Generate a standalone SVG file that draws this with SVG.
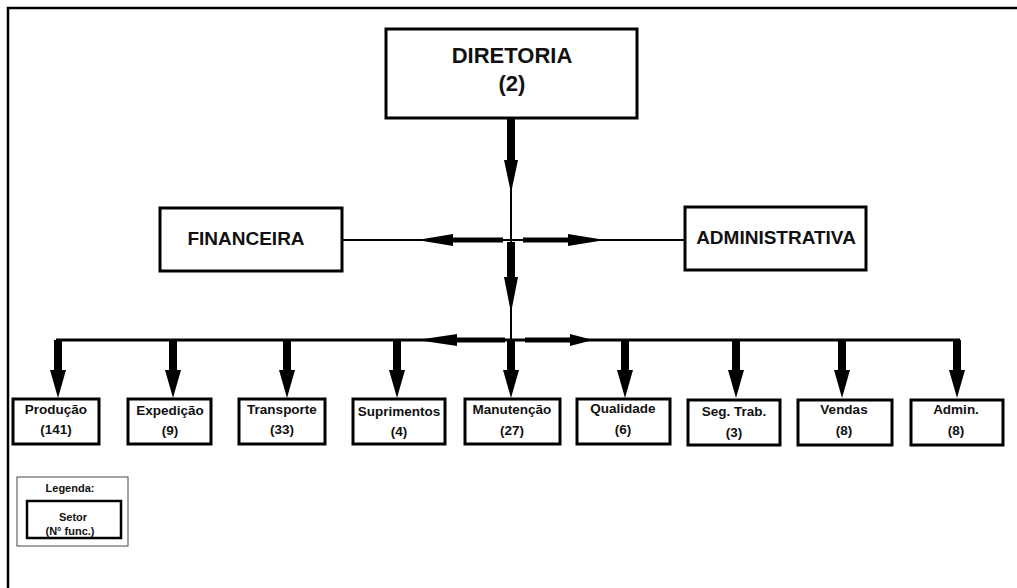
<svg xmlns="http://www.w3.org/2000/svg" width="1017" height="588" viewBox="0 0 1017 588">
<style>
text{font-family:"Liberation Sans",Arial,sans-serif;font-weight:bold;fill:#111;text-anchor:middle}
.big{stroke:#000;stroke-width:3;fill:#fff}
.sm{stroke:#000;stroke-width:3;fill:#fff}
.line{stroke:#000;fill:none}
.t22{font-size:22px}
.t19{font-size:19px}
.t12{font-size:13.5px}
.t11{font-size:11px}
</style>
<defs>
<path id="down" d="M-4,0 H4 V30 H8 L0,58 L-8,30 H-4 Z" fill="#000"/>
</defs>
<rect width="1017" height="588" fill="#fff"/>
<path class="line" d="M8,588 V8 H1017" stroke-width="2.5"/>
<g id="connectors">
<line class="line" x1="511" y1="118" x2="511" y2="340" stroke-width="2"/>
<path d="M507,118 H515 V160 H518 L511,193 L504,160 H507 Z" fill="#000"/>
<path d="M507,242 H515 V277 H518 L511,313 L504,277 H507 Z" fill="#000"/>
<line class="line" x1="342" y1="240" x2="685" y2="240" stroke-width="2"/>
<path d="M503,237.5 V242.5 H453 V246 L417,240 L453,234 V237.5 Z" fill="#000"/>
<path d="M523,237.5 V242.5 H568 V246 L605,240 L568,234 V237.5 Z" fill="#000"/>
<line class="line" x1="56" y1="340" x2="960" y2="340" stroke-width="3"/>
<path d="M505,337.5 V342.5 H457 V346 L417,340 L457,334 V337.5 Z" fill="#000"/>
<path d="M525,337.5 V342.5 H570 V346 L593,340 L570,334 V337.5 Z" fill="#000"/>
<use href="#down" x="58" y="340"/>
<use href="#down" x="173" y="340"/>
<use href="#down" x="287" y="340"/>
<use href="#down" x="397" y="340"/>
<use href="#down" x="511" y="340"/>
<use href="#down" x="625" y="340"/>
<use href="#down" x="736" y="340"/>
<use href="#down" x="842" y="340"/>
<use href="#down" x="957" y="340"/>
</g>
<g id="diretoria">
<rect class="big" x="386" y="29" width="251" height="89"/>
<text class="t22" x="512" y="63">DIRETORIA</text>
<text class="t22" x="512" y="91">(2)</text>
</g>
<g id="financeira">
<rect class="big" x="160" y="208" width="182" height="63"/>
<text class="t19" x="246" y="245">FINANCEIRA</text>
</g>
<g id="administrativa">
<rect class="big" x="685" y="207" width="181" height="63"/>
<text class="t19" x="776" y="244">ADMINISTRATIVA</text>
</g>
<g id="producao">
<rect class="sm" x="13" y="399" width="86" height="45"/>
<text class="t12" x="56" y="414">Produção</text>
<text class="t12" x="56" y="434">(141)</text>
</g>
<g id="expedicao">
<rect class="sm" x="128" y="399" width="83" height="45"/>
<text class="t12" x="170" y="415">Expedição</text>
<text class="t12" x="170" y="435">(9)</text>
</g>
<g id="transporte">
<rect class="sm" x="239" y="399" width="86" height="45"/>
<text class="t12" x="282" y="414">Transporte</text>
<text class="t12" x="282" y="434">(33)</text>
</g>
<g id="suprimentos">
<rect class="sm" x="353" y="399" width="92" height="45"/>
<text class="t12" x="399" y="416">Suprimentos</text>
<text class="t12" x="399" y="436">(4)</text>
</g>
<g id="manutencao">
<rect class="sm" x="465" y="399" width="95" height="45"/>
<text class="t12" x="512" y="414">Manutenção</text>
<text class="t12" x="512" y="435">(27)</text>
</g>
<g id="qualidade">
<rect class="sm" x="577" y="399" width="93" height="45"/>
<text class="t12" x="623" y="413">Qualidade</text>
<text class="t12" x="623" y="434">(6)</text>
</g>
<g id="segtrab">
<rect class="sm" x="688" y="400" width="92" height="45"/>
<text class="t12" x="734" y="416">Seg. Trab.</text>
<text class="t12" x="734" y="437">(3)</text>
</g>
<g id="vendas">
<rect class="sm" x="798" y="400" width="94" height="45"/>
<text class="t12" x="844" y="414">Vendas</text>
<text class="t12" x="844" y="435">(8)</text>
</g>
<g id="admin">
<rect class="sm" x="911" y="400" width="92" height="45"/>
<text class="t12" x="956" y="414">Admin.</text>
<text class="t12" x="956" y="435">(8)</text>
</g>
<g id="legenda">
<rect x="17" y="477" width="111" height="69" fill="#fff" stroke="#444" stroke-width="1"/>
<text class="t11" x="70" y="492">Legenda:</text>
<rect x="27" y="501" width="94" height="37" fill="#fff" stroke="#000" stroke-width="2.5"/>
<text class="t11" x="73" y="521">Setor</text>
<text class="t11" x="70" y="535">(N° func.)</text>
</g>
</svg>
